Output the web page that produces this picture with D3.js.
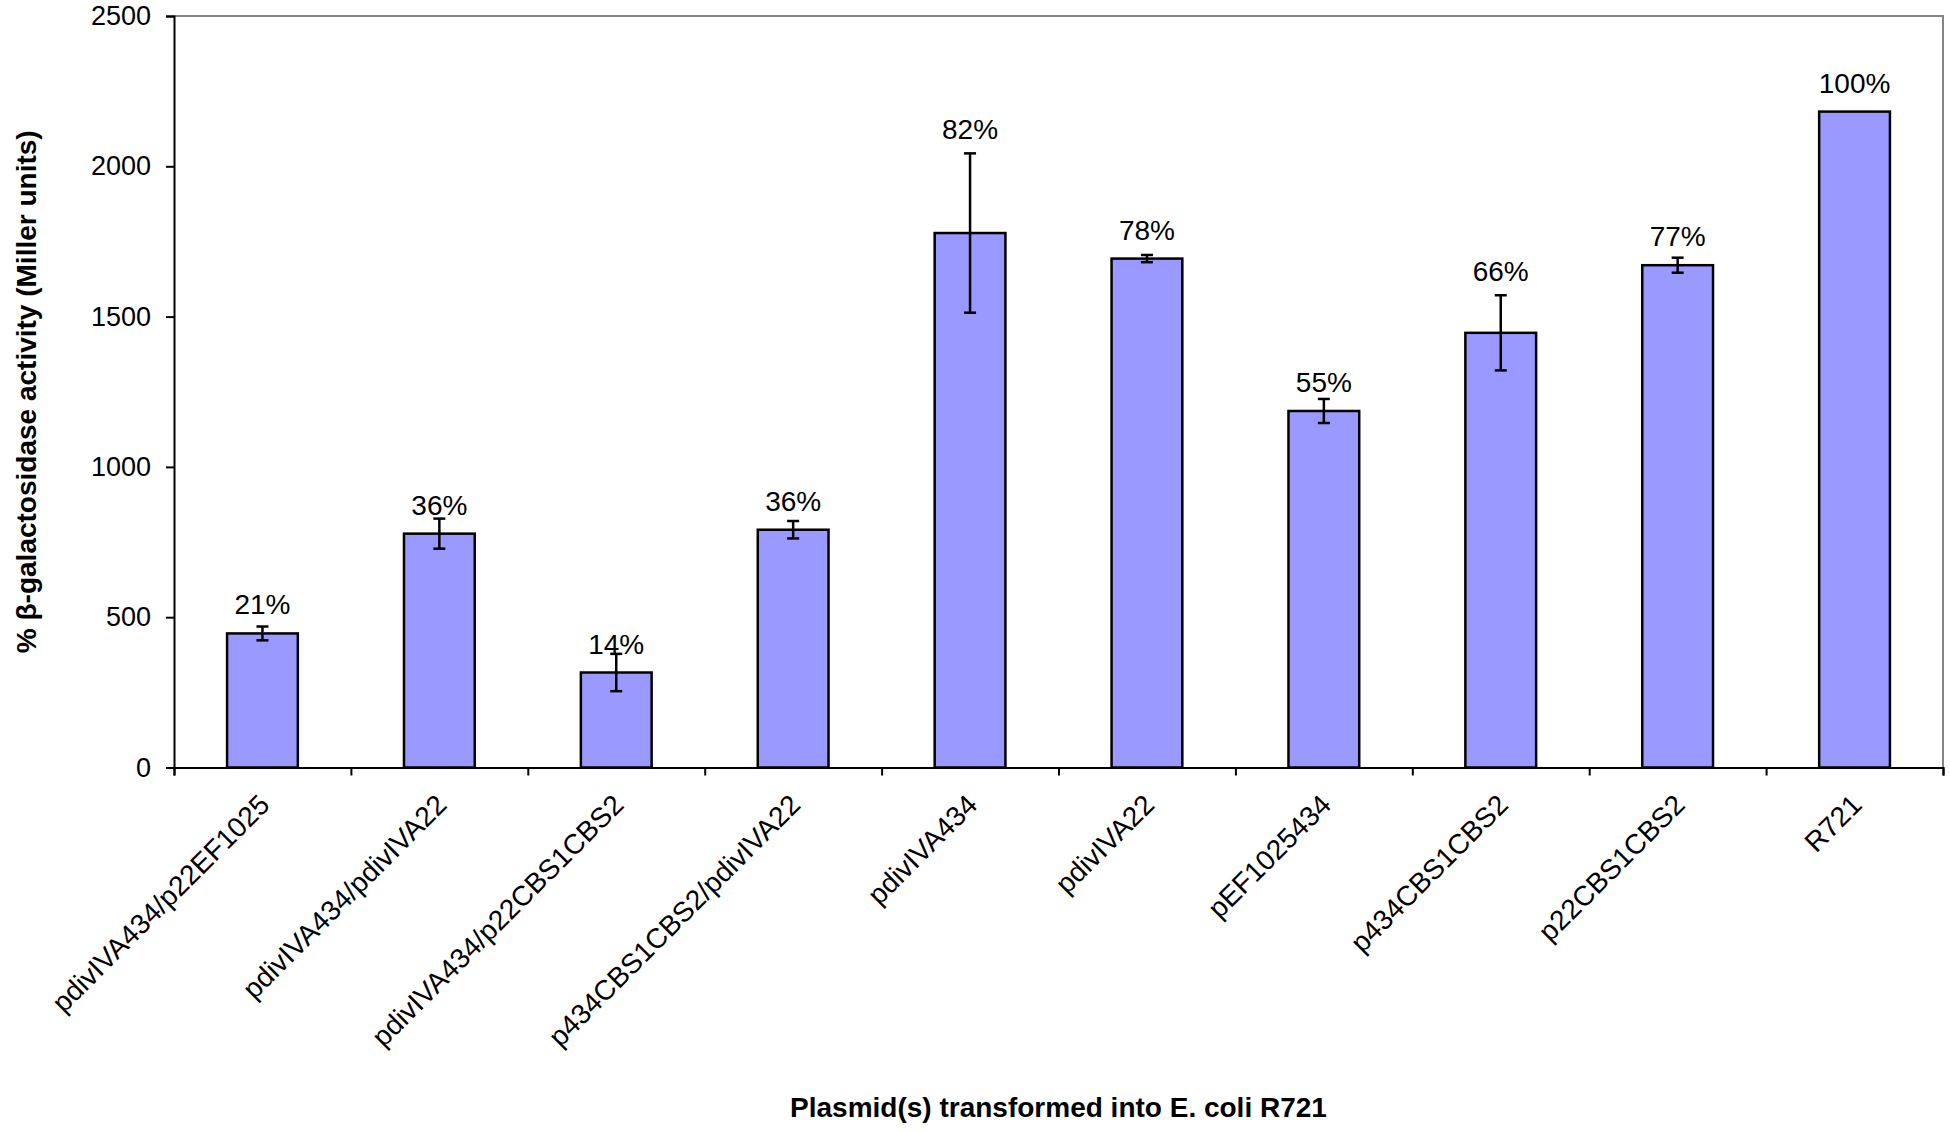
<!DOCTYPE html>
<html>
<head>
<meta charset="utf-8">
<script src="https://cdn.jsdelivr.net/npm/d3@7/dist/d3.min.js"></script>
<style>
  body { margin: 0; background: #fff; }
  svg text { font-family: 'Liberation Sans', Arial, sans-serif; fill: #000; }
</style>
</head>
<body>
<svg id="chart"></svg>
<script>
'use strict';

const categories = [
  'pdivIVA434/p22EF1025', 'pdivIVA434/pdivIVA22', 'pdivIVA434/p22CBS1CBS2',
  'p434CBS1CBS2/pdivIVA22', 'pdivIVA434', 'pdivIVA22', 'pEF1025434',
  'p434CBS1CBS2', 'p22CBS1CBS2', 'R721'
];
const activity = [446, 778, 316, 791, 1778, 1693, 1186, 1446, 1671, 2182];
const errors = [23, 50, 62, 29, 265, 12, 40, 125, 25, 0];
const percentLabels = ['21%', '36%', '14%', '36%', '82%', '78%', '55%', '66%', '77%', '100%'];
const yTicks = [0, 500, 1000, 1500, 2000, 2500];

const W = 1950, H = 1134;
const margin = {top: 16, right: 7, bottom: 366.5, left: 174};
const width = W - margin.left - margin.right;
const height = H - margin.top - margin.bottom;

const data = categories.map((c, i) => ({
  name: c, value: activity[i], err: errors[i], label: percentLabels[i]
}));

const svg = d3.select('#chart')
    .attr('width', W)
    .attr('height', H);

const graph = svg.append('g')
    .attr('transform', `translate(${margin.left}, ${margin.top})`);

const x = d3.scaleBand()
    .domain(categories)
    .range([0, width])
    .padding(0);

const xEdges = d3.scaleLinear()
    .domain([0, categories.length])
    .range([0, width]);

const y = d3.scaleLinear()
    .domain([0, 2500])
    .range([height, 0]);

// grey frame on top and right
graph.append('path')
    .attr('d', `M0,0H${width}V${height}`)
    .style('fill', 'none')
    .style('stroke', '#858585')
    .style('stroke-width', 2);

const barW = x.bandwidth() * 0.4;

graph.selectAll('.bar')
    .data(data)
  .enter().append('rect')
    .attr('class', 'bar')
    .attr('x', d => x(d.name) + (x.bandwidth() - barW) / 2)
    .attr('y', d => y(d.value))
    .attr('width', barW)
    .attr('height', d => height - y(d.value))
    .style('fill', '#9999ff')
    .style('stroke', '#000')
    .style('stroke-width', 2.5);

const errs = graph.selectAll('.err')
    .data(data.filter(d => d.err > 0))
  .enter().append('g')
    .attr('class', 'err')
    .attr('transform', d => `translate(${x(d.name) + x.bandwidth() / 2}, 0)`);

errs.append('line')
    .attr('y1', d => y(d.value + d.err))
    .attr('y2', d => y(d.value - d.err));

errs.append('line')
    .attr('x1', -6).attr('x2', 6)
    .attr('y1', d => y(d.value + d.err))
    .attr('y2', d => y(d.value + d.err));

errs.append('line')
    .attr('x1', -6).attr('x2', 6)
    .attr('y1', d => y(d.value - d.err))
    .attr('y2', d => y(d.value - d.err));

errs.selectAll('line')
    .style('stroke', '#000')
    .style('stroke-width', 2.5);

graph.selectAll('.pct')
    .data(data)
  .enter().append('text')
    .attr('class', 'pct')
    .attr('x', d => x(d.name) + x.bandwidth() / 2)
    .attr('y', d => d.err > 100 ? y(d.value + d.err) - 14 : y(d.value) - 19)
    .attr('text-anchor', 'middle')
    .style('font-size', '28px')
    .text(d => d.label);

const yAxis = d3.axisLeft(y)
    .tickValues(yTicks)
    .tickFormat(d3.format('d'))
    .tickSize(8)
    .tickPadding(15);

const yG = graph.append('g')
    .attr('class', 'y-axis')
    .call(yAxis);

yG.selectAll('text')
    .style('font-size', '27px');

const edgeAxis = d3.axisBottom(xEdges)
    .ticks(categories.length)
    .tickSize(8)
    .tickFormat('');

graph.append('g')
    .attr('class', 'x-axis')
    .attr('transform', `translate(0, ${height})`)
    .call(edgeAxis);

graph.selectAll('.domain, .tick line')
    .style('stroke', '#000')
    .style('stroke-width', 2);

graph.selectAll('.xlabel')
    .data(categories)
  .enter().append('text')
    .attr('class', 'xlabel')
    .attr('text-anchor', 'end')
    .attr('transform', d => `translate(${x(d) + x.bandwidth() / 2 + 2}, ${height + 32}) rotate(-45)`)
    .attr('dy', '0.35em')
    .style('font-size', '28px')
    .text(d => d);

svg.append('text')
    .attr('transform', `translate(36, ${margin.top + height / 2}) rotate(-90)`)
    .attr('text-anchor', 'middle')
    .style('font-size', '28px')
    .style('font-weight', 'bold')
    .text('% β-galactosidase activity (Miller units)');

svg.append('text')
    .attr('x', margin.left + width / 2)
    .attr('y', 1117)
    .attr('text-anchor', 'middle')
    .style('font-size', '28px')
    .style('font-weight', 'bold')
    .text('Plasmid(s) transformed into E. coli R721');
</script>
</body>
</html>
